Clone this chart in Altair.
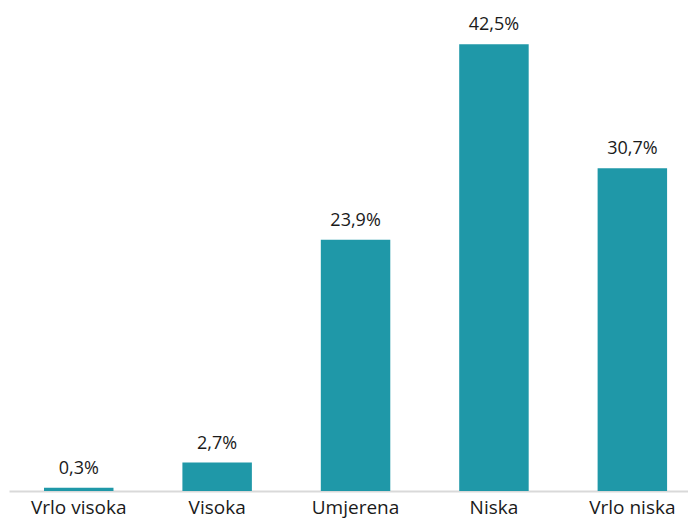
import altair as alt
import pandas as pd

categories = ["Vrlo visoka", "Visoka", "Umjerena", "Niska", "Vrlo niska"]
values = [0.3, 2.7, 23.9, 42.5, 30.7]
labels = ["0,3%", "2,7%", "23,9%", "42,5%", "30,7%"]

df = pd.DataFrame({"cat": categories, "val": values, "lbl": labels})

FONT = "Open Sans"

x = alt.X("cat:N", sort=categories, title=None,
          scale=alt.Scale(paddingInner=0.498, paddingOuter=0.202, align=0.626),
          axis=alt.Axis(labelAngle=0, ticks=False, domainColor="#D9D9D9", domainWidth=2,
                        labelFont=FONT, labelFontSize=19, labelColor="#1a1a1a",
                        labelPadding=7, grid=False))
y = alt.Y("val:Q", scale=alt.Scale(domain=[0, 45], nice=False, zero=True), axis=None)

bars = alt.Chart(df).mark_bar(color="#1F98A8").encode(x=x, y=y)
text = alt.Chart(df).mark_text(font=FONT, fontSize=18, color="#1a1a1a", baseline="bottom", dy=-10).encode(
    x=alt.X("cat:N", sort=categories), y="val:Q", text="lbl:N")

chart = (bars + text).properties(
    width=679, height=473,
    autosize=alt.AutoSizeParams(type="none"),
    padding={"left": 1, "top": 10, "right": 0, "bottom": 27},
).configure_view(stroke=None)

chart.save("out.html", embed_options={"renderer": "svg", "actions": False})
